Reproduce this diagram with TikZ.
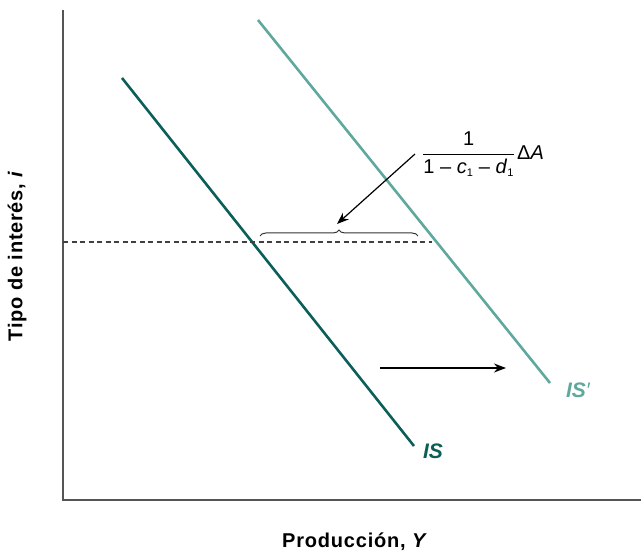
\documentclass[tikz,border=0pt]{standalone}
\usepackage{amsmath}
\usepackage{fontspec}
\setmainfont{Liberation Sans}
\usetikzlibrary{arrows.meta,decorations.pathreplacing}
\definecolor{isdark}{HTML}{0B5F58}
\definecolor{islight}{HTML}{5FA89E}
\definecolor{axisgray}{HTML}{555555}
\newcommand{\mysub}[1]{\textsubscript{\fontsize{11}{12}\selectfont #1}}
\newcommand{\mym}{\hspace{0.28em}–\hspace{0.28em}}
\begin{document}
\begin{tikzpicture}[x=1pt,y=-1pt,
  axislbl/.style={font=\fontsize{20}{24}\selectfont\addfontfeatures{LetterSpace=4}\bfseries},
  curvelbl/.style={font=\fontsize{21}{24}\selectfont\bfseries\itshape},
  arr/.style={-{Stealth[length=12pt,width=9pt]},line width=1.2pt}]
\useasboundingbox (0,0) rectangle (641,559);
% axes
\coordinate (top) at (63,10);
\coordinate (orig) at (63,500);
\coordinate (xend) at (641,500);
\draw[axisgray,line width=1.4pt] (top) -- (orig) -- (xend);
% curves
\coordinate (is1) at (122,78);
\coordinate (is2) at (414,446);
\coordinate (isp1) at (258,20);
\coordinate (isp2) at (550,383);
\draw[isdark,line width=2.6pt] (is1) -- (is2);
\draw[islight,line width=2.6pt] (isp1) -- (isp2);
% dashed
\coordinate (d1) at (63,242);
\coordinate (d2) at (432,242);
\draw[dashed,dash pattern=on 5pt off 3.5pt,line width=1.1pt,black!75] (d1) -- (d2);
% brace
\coordinate (b1) at (260,236);
\coordinate (b2) at (418,236);
\draw[decorate,decoration={brace,amplitude=6pt},line width=1pt,black!80] (b1) -- (b2);
% fraction label
\node[font=\fontsize{20}{24}\selectfont,inner sep=0pt] (frac) at (483,154)
  {$\dfrac{\hbox{1}}{\hbox{1\mym\textit{c}\mysub{1}\mym\textit{d}\mysub{1}}}$\hspace{2pt}Δ\textit{A}};
\coordinate (arrs) at (415,154);
\coordinate (arre) at (337,224);
\draw[arr] (arrs) -- (arre);
% shift arrow
\coordinate (h1) at (380,368);
\coordinate (h2) at (506,368);
\draw[arr] (h1) -- (h2);
% labels
\node[curvelbl,text=isdark] (lis) at (433,451) {IS};
\node[curvelbl,text=islight] (lisp) at (578,390) {IS{\mdseries\itshape ′}};
\node[axislbl,rotate=90] (ylab) at (17,256) {Tipo de interés, \textit{i}};
\node[axislbl] (xlab) at (355,542) {Producción, \textit{Y}};
\end{tikzpicture}
\end{document}
